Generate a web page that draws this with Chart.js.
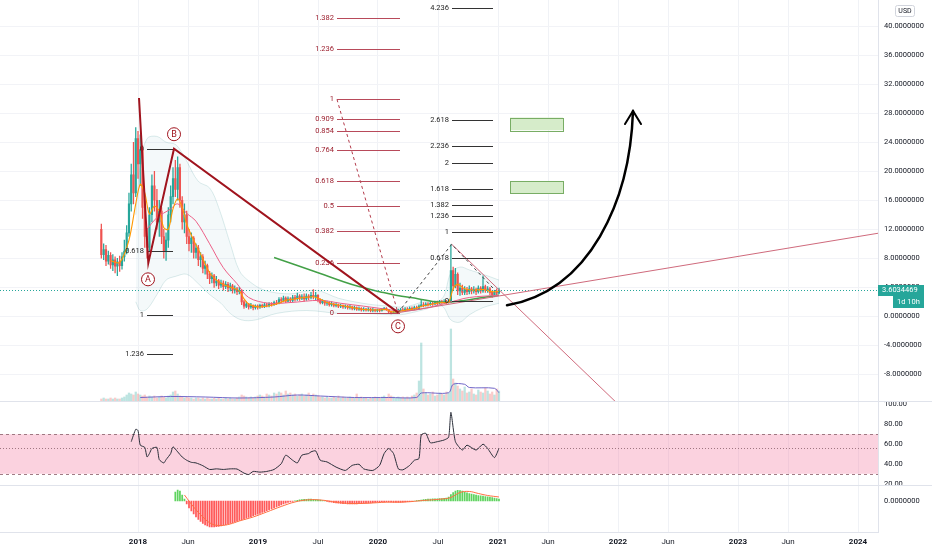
<!DOCTYPE html>
<html><head><meta charset="utf-8">
<script src="https://cdn.jsdelivr.net/npm/chart.js@4.4.1/dist/chart.umd.min.js"></script>
<style>html,body{margin:0;padding:0;background:#fff;}#wrap{width:932px;height:550px;position:relative;}</style>
</head><body><div id="wrap"><canvas id="c"></canvas></div>
<script>
const FONT = 'Roboto, "Liberation Sans", sans-serif';
const TXT = '#131722';

// ---- axes / ticks ----
const xTickVals = [0,5,12,18,24,30,36,41,48,53,60,65,72];
const xTickLabels = ['2018','Jun','2019','Jul','2020','Jul','2021','Jun','2022','Jun','2023','Jun','2024'];
const yearTicks = [0,12,24,36,48,60,72];
const priceTicks = [-8,-4,0,4,8,12,16,20,24,28,32,36,40];
const rsiTicks = [20,40,60,80,100];
const macdTicks = [0];
const lastPrice = 3.6034469;

// ---- weekly candles (first bar: week of 2017-09-11) ----
const opens = [12.0,8.5,9.2,7.6,8.4,7.1,7.8,6.9,7.5,7.0,
8.2,9.0,11.5,15.5,19.5,17.0,24.5,21.0,23.0,15.0,
11.0,9.5,14.0,18.0,16.0,13.0,14.5,11.0,9.0,10.5,
14.0,16.5,19.0,17.5,20.5,16.0,13.0,14.0,11.0,10.0,
10.8,8.8,9.4,7.8,8.2,6.6,7.0,5.8,5.2,5.6,
4.6,4.9,4.3,4.6,4.1,4.4,3.9,4.2,3.6,3.8,
3.4,3.6,2.0,1.4,1.7,1.3,1.5,1.2,1.4,1.3,
1.5,1.4,1.6,1.5,1.7,1.6,1.9,1.8,2.3,2.2,
2.5,2.1,2.4,2.2,2.6,2.4,2.8,2.5,2.7,2.4,
2.8,2.6,2.9,2.7,2.9,2.3,1.9,2.1,1.8,1.9,
1.6,1.7,1.5,1.6,1.4,1.5,1.3,1.4,1.2,1.3,
1.1,1.2,1.0,1.1,0.9,1.0,0.9,1.0,0.8,0.9,
0.8,0.9,0.8,1.0,1.1,0.9,0.6,0.5,0.6,0.7,
0.8,0.9,0.8,1.0,0.9,1.1,1.0,1.2,1.1,1.4,
1.6,1.5,1.7,1.6,1.8,1.7,1.9,1.8,2.0,1.9,
2.0,1.9,2.0,6.3,4.2,5.8,3.5,3.9,3.3,3.7,
3.4,3.8,3.5,3.7,3.4,3.9,3.5,4.1,3.6,3.8,
3.3,3.0,3.3,3.2];
const highs = [12.7,10.0,9.8,9.0,8.8,8.5,8.2,8.0,8.3,8.8,
10.5,12.5,17.0,21.0,24.0,26.0,25.5,25.0,23.5,16.0,
12.0,15.0,19.5,20.0,17.5,16.0,15.0,12.0,11.5,15.0,
18.0,20.5,21.5,22.0,21.0,16.5,15.5,14.5,12.0,11.5,
11.0,10.0,9.8,8.8,8.5,7.6,7.2,6.2,6.0,5.8,
5.5,5.1,5.0,4.9,4.8,4.7,4.6,4.4,4.2,4.0,
4.0,3.7,2.2,2.0,1.8,1.8,1.6,1.6,1.6,1.7,
1.7,1.8,1.8,1.9,1.9,2.1,2.2,2.6,2.6,2.8,
2.7,2.7,2.6,2.9,2.9,3.2,3.0,3.0,3.1,3.1,
3.0,3.3,3.7,3.3,3.0,2.4,2.3,2.2,2.1,2.0,
2.0,1.8,1.9,1.7,1.7,1.6,1.6,1.5,1.5,1.4,
1.4,1.3,1.3,1.2,1.2,1.1,1.2,1.1,1.1,1.0,
1.0,1.0,1.1,1.25,1.2,0.95,0.7,0.8,0.9,1.0,
1.1,1.1,1.2,1.2,1.3,1.3,1.4,1.4,1.6,2.2,
1.9,1.9,1.9,2.0,2.0,2.1,2.1,2.2,2.2,2.3,
2.2,2.3,9.9,6.8,6.6,6.0,4.6,4.3,4.1,4.0,
4.2,4.0,4.1,3.9,4.2,4.1,5.6,4.3,4.1,4.0,
3.5,3.6,3.8,3.9];
const lows = [8.0,7.8,7.0,7.2,6.6,6.3,6.0,5.6,6.2,6.5,
7.6,8.6,11.0,14.5,15.5,16.5,19.0,18.0,13.5,9.5,
8.0,9.0,13.0,14.5,12.0,11.0,10.0,8.0,7.7,9.5,
13.0,15.5,16.5,16.0,15.0,12.0,11.5,10.0,9.0,8.8,
8.0,8.0,7.0,6.8,6.0,5.8,5.2,4.5,4.6,4.0,
4.2,3.8,4.0,3.6,3.8,3.4,3.5,3.2,3.2,3.0,
3.1,1.6,1.1,1.2,1.0,1.1,0.9,1.0,1.0,1.1,
1.2,1.2,1.3,1.3,1.4,1.5,1.6,1.7,1.9,2.0,
1.9,2.0,1.9,2.0,2.1,2.2,2.2,2.3,2.1,2.2,
2.3,2.4,2.4,2.3,2.0,1.7,1.7,1.5,1.5,1.4,
1.4,1.3,1.3,1.2,1.2,1.1,1.1,1.0,1.0,0.9,
0.9,0.8,0.8,0.7,0.7,0.7,0.7,0.6,0.6,0.6,
0.6,0.6,0.7,0.9,0.8,0.45,0.35,0.4,0.5,0.5,
0.7,0.7,0.7,0.8,0.8,0.9,0.9,1.0,1.0,1.3,
1.3,1.4,1.4,1.5,1.5,1.6,1.6,1.7,1.7,1.8,
1.7,1.8,1.9,3.6,3.9,3.0,2.9,3.0,3.0,3.0,
3.1,3.1,3.2,3.0,3.2,3.2,3.3,3.3,3.3,3.0,
2.6,2.7,2.9,3.1];
const closes = [8.5,9.2,7.6,8.4,7.1,7.8,6.9,7.5,7.0,8.2,
9.0,11.5,15.5,19.5,17.0,24.5,21.0,23.0,15.0,11.0,
9.5,14.0,18.0,16.0,13.0,14.5,11.0,9.0,10.5,14.0,
16.5,19.0,17.5,20.5,16.0,13.0,14.0,11.0,10.0,10.8,
8.8,9.4,7.8,8.2,6.6,7.0,5.8,5.2,5.6,4.6,
4.9,4.3,4.6,4.1,4.4,3.9,4.2,3.6,3.8,3.4,
3.6,2.0,1.4,1.7,1.3,1.5,1.2,1.4,1.3,1.5,
1.4,1.6,1.5,1.7,1.6,1.9,1.8,2.3,2.2,2.5,
2.1,2.4,2.2,2.6,2.4,2.8,2.5,2.7,2.4,2.8,
2.6,2.9,2.7,2.9,2.3,1.9,2.1,1.8,1.9,1.6,
1.7,1.5,1.6,1.4,1.5,1.3,1.4,1.2,1.3,1.1,
1.2,1.0,1.1,0.9,1.0,0.9,1.0,0.8,0.9,0.8,
0.9,0.8,1.0,1.1,0.9,0.6,0.5,0.6,0.7,0.8,
0.9,0.8,1.0,0.9,1.1,1.0,1.2,1.1,1.4,1.6,
1.5,1.7,1.6,1.8,1.7,1.9,1.8,2.0,1.9,2.0,
1.9,2.0,6.3,4.2,5.8,3.5,3.9,3.3,3.7,3.4,
3.8,3.5,3.7,3.4,3.9,3.5,4.1,3.6,3.8,3.3,
3.0,3.3,3.2,3.6034469];
const volumes = [2,3,2,2,3,2,3,2,2,3,
4,6,8,7,6,9,7,6,5,6,
4,5,4,5,3,4,5,4,3,5,
6,9,10,7,5,4,3,4,3,3,
2,3,3,2,3,2,3,2,2,3,
2,3,2,2,3,2,3,2,2,3,
4,6,5,4,3,4,3,4,5,6,
5,4,7,6,5,8,7,9,8,6,
10,7,8,6,7,5,6,7,5,6,
8,5,7,6,5,4,4,3,4,3,
3,4,3,5,3,4,3,3,4,3,
3,7,3,4,3,3,2,3,3,4,
3,3,4,5,3,7,5,4,3,4,
3,4,3,4,3,5,6,8,20,58,
12,8,6,7,9,5,6,8,7,6,
9,8,72,22,18,15,12,10,14,8,
9,12,7,6,11,9,8,13,10,7,
9,6,12,10];

// ---- overlays: [bar index, value] ----
const emaFast = [[4,7.7],[8,7.4],[12,10.5],[15,15.5],[17,18.2],[19,17.0],[21,14.1],[23,15.2],[25,14.5],[27,12.2],[29,12.0],[31,14.8],[33,16.2],[35,15.0],[37,12.7],[40,10.5],[43,8.6],[47,6.0],[50,5.0],[53,4.4],[57,3.9],[60,3.5],[62,2.4],[64,1.7],[68,1.3],[72,1.4],[76,1.7],[80,2.2],[84,2.4],[88,2.6],[92,2.7],[95,2.4],[98,1.9],[102,1.6],[106,1.4],[110,1.15],[114,0.95],[118,0.88],[122,0.9],[124,0.95],[126,0.65],[129,0.65],[132,0.85],[136,1.05],[140,1.45],[144,1.7],[148,1.9],[151,1.95],[153,3.8],[155,4.4],[158,3.8],[162,3.6],[166,3.7],[170,3.4],[173,3.45]];
const maSlow = [[20,12.0],[24,13.6],[30,14.8],[33,15.5],[37,14.2],[41,13.1],[47,10.0],[53,6.7],[59,4.5],[64,2.6],[73,1.8],[82,1.9],[95,2.2],[104,1.8],[114,1.4],[121,1.1],[130,0.75],[138,0.95],[151,1.9],[160,2.6],[173,2.9]];
const bbUpper = [[15,14],[17,21],[20,24.5],[24,24.8],[28,24.0],[32,23.7],[35,22.5],[37,21.4],[42,18.6],[47,17.7],[51,15.0],[56,10.0],[60,6.3],[64,4.9],[71,3.6],[82,3.1],[93,3.6],[103,2.5],[110,2.0],[118,1.6],[126,1.4],[132,1.3],[140,2.0],[148,2.4],[152,6.0],[156,6.8],[160,6.4],[166,5.8],[173,5.0]];
const bbLower = [[15,2.0],[17,0.8],[20,1.0],[24,3.0],[28,5.0],[32,5.5],[37,5.8],[42,4.5],[47,3.0],[52,1.8],[56,0.4],[61,-0.5],[67,-0.5],[76,0.4],[89,0.8],[103,0.4],[110,0.4],[118,0.35],[126,0.2],[132,0.3],[140,0.9],[148,1.4],[152,-0.5],[156,-0.8],[160,0.2],[166,1.2],[173,1.8]];
const maLong = [[75,8.1],[85,7.0],[95,5.9],[104,4.9],[112,4.1],[121,3.4],[128,2.9],[138,2.4],[144,2.05],[150,1.95],[158,2.2],[166,2.6],[173,2.9]];
const volMA = [[17,3.5],[30,4.5],[45,4],[60,3],[75,4],[85,6],[95,5],[110,3.5],[125,3.5],[137,3.5],[139,8],[151,8.3],[153,16.7],[158,16.7],[160,13.5],[171,12.7],[173,8.3]];
const rsi = [[13,62.5],[15,75],[16,73.8],[17,59],[19,56.7],[20,47],[21,50.5],[22,55.6],[24,56.7],[25,44.3],[27,41],[28,44.3],[30,50.5],[31,57.3],[33,52.2],[35,47],[37,43.7],[39,41.6],[41,41],[44,38.2],[47,34.4],[50,35],[53,34.4],[56,35],[59,34.8],[62,30.7],[64,29.3],[66,32.4],[69,31.7],[72,32.4],[75,34.4],[78,40.2],[80,48.8],[83,43.7],[85,41],[87,48.8],[90,50.5],[91,52.2],[93,53.2],[95,43.7],[98,42],[102,36.8],[106,33.4],[109,38.5],[112,39.6],[114,35],[118,33.4],[121,38.5],[123,50.5],[125,55.6],[127,50.5],[129,35],[131,34],[134,38.5],[136,43.7],[138,45.4],[139,69.3],[141,71],[143,61.4],[146,62.5],[149,64.2],[151,67],[152,92.2],[154,62.5],[157,54],[159,59],[163,54],[166,60],[168,55.6],[171,46.4],[173,55.6]];
const rsiBand = [30,70];
const rsiMid = 56;
const macdStart = 32;
const macdHist = [0.9,1.1,1.0,0.6,0.2,-0.3,-0.7,-1.0,-1.3,-1.6,
-1.85,-2.05,-2.25,-2.4,-2.5,-2.58,-2.6,-2.6,-2.57,-2.53,
-2.48,-2.42,-2.36,-2.3,-2.24,-2.17,-2.1,-2.02,-1.95,-1.88,
-1.8,-1.72,-1.64,-1.56,-1.48,-1.4,-1.32,-1.24,-1.15,-1.06,
-0.97,-0.88,-0.79,-0.7,-0.6,-0.5,-0.4,-0.3,-0.22,-0.15,
-0.09,-0.04,0.02,0.07,0.11,0.14,0.16,0.17,0.18,0.18,
0.17,0.15,0.12,0.08,0.04,0.0,-0.05,-0.09,-0.13,-0.17,
-0.2,-0.23,-0.25,-0.27,-0.28,-0.29,-0.3,-0.3,-0.3,-0.29,
-0.28,-0.27,-0.25,-0.23,-0.21,-0.19,-0.17,-0.15,-0.13,-0.11,
-0.1,-0.09,-0.09,-0.1,-0.12,-0.14,-0.15,-0.15,-0.14,-0.12,
-0.1,-0.08,-0.06,-0.03,0.0,0.03,0.06,0.1,0.14,0.17,
0.19,0.2,0.21,0.22,0.22,0.23,0.24,0.26,0.3,0.4,
0.65,0.85,1.0,1.07,1.05,0.98,0.9,0.82,0.75,0.69,
0.64,0.59,0.55,0.51,0.48,0.45,0.42,0.38,0.34,0.3,
0.25,0.2];
const macdSignal = [[36,0.6],[40,-0.6],[44,-1.6],[48,-2.3],[52,-2.45],[56,-2.3],[60,-2.0],[66,-1.6],[72,-1.1],[78,-0.55],[84,-0.1],[90,0.12],[96,0.08],[102,-0.12],[108,-0.25],[116,-0.22],[124,-0.12],[132,-0.1],[140,0.05],[148,0.2],[152,0.35],[156,0.85],[160,0.95],[164,0.75],[168,0.55],[173,0.4]];

// ---- drawings in (month since Jan 2018, price) ----
const elliottPath = [[0.1,30.1],[1.03,7.35],[3.6,23.1],[26.03,0.51]];
const waveLabels = [['A',1.0,5.1],['B',3.6,25.1],['C',26.0,-1.38]];
const fibLeft = {p0:23.08,p1:0.23,x0:0.9,x1:3.5,levels:[0,0.618,1,1.236]};
const fibMid = {p0:0.45,p1:29.9,x0:19.9,x1:26.2,levels:[0,0.236,0.382,0.5,0.618,0.764,0.854,0.909,1,1.236,1.382]};
const fibRight = {p0:2.07,p1:11.63,x0:31.4,x1:35.5,levels:[0,0.618,1,1.236,1.382,1.618,2,2.236,2.618,4.236]};
const redDashed = [[19.9,29.9],[26.0,0.45]];
const blackDashed = [[26.0,0.5],[31.37,9.93],[35.7,3.6]];
const trendDown = [[31.37,9.93],[47.7,-11.7]];
const trendUp = [[26.03,0.51],[74,11.45]];
const targetBoxes = [[37.2,27.4,42.5,25.66],[37.2,18.66,42.5,17.0]];
const arrowCurve = [[36.9,1.52],[45.2,3.59],[49.2,15.9],[49.5,28.3]];
const arrowHead = [[48.7,26.5],[50.3,26.5]];

// ---- helpers ----
function barMonth(i){
  const d = new Date(Date.UTC(2017,8,11) + i*7*864e5);
  const y=d.getUTCFullYear(), m=d.getUTCMonth(), day=d.getUTCDate();
  const dim = new Date(Date.UTC(y,m+1,0)).getUTCDate();
  return (y-2018)*12 + m + (day-1)/dim;
}
const pts = arr => arr.map(([i,v]) => ({x: barMonth(i), y: v}));
const UP='#26a69a', DOWN='#ef5350';
const candleColor = ctx => (ctx.dataIndex!==undefined && closes[ctx.dataIndex] >= opens[ctx.dataIndex]) ? UP : DOWN;
const volColor = ctx => (ctx.dataIndex!==undefined && closes[ctx.dataIndex] >= opens[ctx.dataIndex]) ? 'rgba(38,166,154,0.3)' : 'rgba(239,83,80,0.3)';
const fmtLevel = l => String(l);
const noPad = s => { s.paddingTop = 0; s.paddingBottom = 0; s.paddingLeft = 0; s.paddingRight = 0; };

Chart.defaults.font.family = FONT;
Chart.defaults.font.size = 7.5;
Chart.defaults.color = TXT;

const drawPlugin = {
  id: 'drawings',
  beforeDatasetsDraw(chart){
    const {ctx, chartArea:a, scales} = chart;
    const r = scales.yRsi;
    const yT = r.getPixelForValue(rsiBand[1]), yB = r.getPixelForValue(rsiBand[0]);
    ctx.save();
    ctx.fillStyle = 'rgba(244,119,158,0.33)';
    ctx.fillRect(a.left, yT, a.right-a.left, yB-yT);
    ctx.strokeStyle = 'rgba(150,110,120,0.9)';
    ctx.lineWidth = 1;
    ctx.setLineDash([3,3]);
    [yT,yB].forEach(y=>{ctx.beginPath();ctx.moveTo(a.left,Math.round(y)+0.5);ctx.lineTo(a.right,Math.round(y)+0.5);ctx.stroke();});
    ctx.setLineDash([1,2]);
    const ym = Math.round(r.getPixelForValue(rsiMid))+0.5;
    ctx.beginPath();ctx.moveTo(a.left,ym);ctx.lineTo(a.right,ym);ctx.stroke();
    ctx.restore();
  },
  afterDatasetsDraw(chart){
    const {ctx, chartArea:a, scales} = chart;
    const X = scales.x, Y = scales.y;
    const px = v => X.getPixelForValue(v), py = v => Y.getPixelForValue(v);
    ctx.save();
    ctx.beginPath(); ctx.rect(a.left, Y.top, a.right-a.left, Y.bottom-Y.top); ctx.clip();

    ctx.strokeStyle = UP; ctx.lineWidth = 1; ctx.setLineDash([1,2]);
    const lp = Math.round(py(lastPrice))+0.5;
    ctx.beginPath(); ctx.moveTo(a.left, lp); ctx.lineTo(a.right, lp); ctx.stroke();
    ctx.setLineDash([]);

    const poly = (p, color, w, dash) => {
      ctx.strokeStyle = color; ctx.lineWidth = w; ctx.setLineDash(dash||[]);
      ctx.beginPath(); p.forEach(([x,y],k)=>{ k?ctx.lineTo(px(x),py(y)):ctx.moveTo(px(x),py(y)); }); ctx.stroke();
      ctx.setLineDash([]);
    };
    poly(trendUp, '#cf6a7c', 1);
    poly(trendDown, '#cf6a7c', 1);
    poly(redDashed, '#b33a4a', 1, [3,3]);
    poly(blackDashed, '#444', 1, [3,3]);

    const fib = (f, lineColor, textColor) => {
      const x1 = px(f.x0), x2 = px(f.x1);
      ctx.font = '7.5px ' + FONT; ctx.textAlign = 'right'; ctx.textBaseline = 'middle';
      f.levels.forEach(l => {
        const y = Math.round(py(f.p0 + l*(f.p1-f.p0)))+0.5;
        ctx.strokeStyle = lineColor; ctx.lineWidth = 1;
        ctx.beginPath(); ctx.moveTo(x1,y); ctx.lineTo(x2,y); ctx.stroke();
        ctx.fillStyle = textColor; ctx.fillText(fmtLevel(l), x1-3, y);
      });
    };
    fib(fibLeft, '#333', '#1e1e1e');
    fib(fibMid, '#b84a5a', '#9c1f2e');
    fib(fibRight, '#333', '#1e1e1e');

    poly(elliottPath, '#a0141e', 2);
    ctx.font = '9px ' + FONT; ctx.textAlign='center'; ctx.textBaseline='middle';
    waveLabels.forEach(([t,x,y]) => {
      const cx = px(x), cy = py(y);
      ctx.beginPath(); ctx.arc(cx, cy, 6.5, 0, Math.PI*2);
      ctx.fillStyle = '#fff'; ctx.fill();
      ctx.strokeStyle = '#a0141e'; ctx.lineWidth = 1; ctx.stroke();
      ctx.fillStyle = '#a0141e'; ctx.fillText(t, cx, cy+0.5);
    });

    targetBoxes.forEach(([x0,y0,x1,y1]) => {
      const l=px(x0), t=py(y0), w=px(x1)-l, h=py(y1)-t;
      ctx.fillStyle = '#d6ecca'; ctx.fillRect(l,t,w,h);
      ctx.strokeStyle = '#78ad64'; ctx.lineWidth = 1; ctx.strokeRect(Math.round(l)+0.5,Math.round(t)+0.5,Math.round(w),Math.round(h));
    });

    const c = arrowCurve;
    ctx.strokeStyle = '#000'; ctx.lineWidth = 2.5; ctx.lineCap='round';
    ctx.beginPath(); ctx.moveTo(px(c[0][0]),py(c[0][1]));
    ctx.bezierCurveTo(px(c[1][0]),py(c[1][1]),px(c[2][0]),py(c[2][1]),px(c[3][0]),py(c[3][1]));
    ctx.stroke();
    ctx.lineWidth = 2;
    ctx.beginPath();
    ctx.moveTo(px(arrowHead[0][0]),py(arrowHead[0][1]));
    ctx.lineTo(px(c[3][0]),py(c[3][1]));
    ctx.lineTo(px(arrowHead[1][0]),py(arrowHead[1][1]));
    ctx.stroke();
    ctx.restore();
  },
  afterDraw(chart){
    const {ctx, chartArea:a, scales} = chart;
    ctx.save();
    ctx.strokeStyle = '#e0e3eb'; ctx.lineWidth = 1;
    [scales.y.bottom, scales.yRsi.bottom].forEach(y=>{
      const yy = Math.round(y)+0.5;
      ctx.beginPath(); ctx.moveTo(0,yy); ctx.lineTo(chart.width,yy); ctx.stroke();
    });
    const y = Math.round(scales.y.getPixelForValue(lastPrice));
    ctx.fillStyle = UP;
    ctx.fillRect(a.right, y-5, 46, 11);
    ctx.fillRect(a.right+15, y+6, 31, 12);
    ctx.fillStyle = '#fff'; ctx.font = '7.5px ' + FONT; ctx.textAlign='left'; ctx.textBaseline='middle';
    ctx.fillText(lastPrice.toFixed(7), a.right+4, y+0.5);
    ctx.textAlign='center';
    ctx.fillText('1d 10h', a.right+30.5, y+12);
    ctx.strokeStyle = '#d1d4dc'; ctx.lineWidth = 1;
    ctx.beginPath(); ctx.roundRect(895.5, 5.5, 19, 11, 2); ctx.stroke();
    ctx.fillStyle = TXT; ctx.font = '7px ' + FONT; ctx.textAlign='center';
    ctx.fillText('USD', 905, 11.5);
    ctx.restore();
  }
};

const yAxisCommon = {
  position: 'right', stack: 'panes',
  border: {display: true, color: '#e0e3eb'},
  afterFit: s => { s.width = 54; noPad(s); }
};

new Chart(document.getElementById('c'), {
  type: 'line',
  data: { datasets: [
    {type:'line', data: pts(bbUpper), yAxisID:'y', borderColor:'rgba(0,120,120,0.14)', borderWidth:1, pointRadius:0, tension:0.35, fill:'+1', backgroundColor:'rgba(0,120,130,0.045)', order:20},
    {type:'line', data: pts(bbLower), yAxisID:'y', borderColor:'rgba(0,120,120,0.14)', borderWidth:1, pointRadius:0, tension:0.35, fill:false, order:20},
    {type:'bar', data: volumes.map((v,i)=>({x:barMonth(i), y:v})), yAxisID:'yVol', backgroundColor: volColor, barThickness:1.6, grouped:false, borderWidth:0, order:15},
    {type:'line', data: pts(volMA), yAxisID:'yVol', borderColor:'#7066c8', borderWidth:1, pointRadius:0, tension:0.3, order:14},
    {type:'bar', data: lows.map((l,i)=>({x:barMonth(i), y:[l, highs[i]]})), yAxisID:'y', backgroundColor: candleColor, barThickness:0.6, grouped:false, borderWidth:0, order:10},
    {type:'bar', data: opens.map((o,i)=>({x:barMonth(i), y:[o, closes[i]]})), yAxisID:'y', backgroundColor: candleColor, barThickness:1.5, minBarLength:0.7, grouped:false, borderWidth:0, order:9},
    {type:'line', data: pts(maLong), yAxisID:'y', borderColor:'#43a047', borderWidth:1.5, pointRadius:0, tension:0.4, order:3},
    {type:'line', data: pts(maSlow), yAxisID:'y', borderColor:'#ec5f86', borderWidth:1, pointRadius:0, tension:0.35, order:2},
    {type:'line', data: pts(emaFast), yAxisID:'y', borderColor:'#ff9800', borderWidth:1.1, pointRadius:0, tension:0.3, order:1},
    {type:'line', data: pts(rsi), yAxisID:'yRsi', borderColor:'#2a2e39', borderWidth:1, pointRadius:0, tension:0.2, order:1},
    {type:'bar', data: macdHist.map((v,k)=>({x:barMonth(macdStart+k), y:v})), yAxisID:'yMacd', backgroundColor: ctx => (ctx.raw && ctx.raw.y >= 0) ? '#5fd35f' : '#ff5a5a', barThickness:1.1, grouped:false, borderWidth:0, order:5},
    {type:'line', data: pts(macdSignal), yAxisID:'yMacd', borderColor:'#ff7043', borderWidth:1, pointRadius:0, tension:0.4, order:1}
  ]},
  options: {
    responsive: true, maintainAspectRatio: false, animation: false,
    layout: {padding: 0},
    plugins: {legend:{display:false}, tooltip:{enabled:false}},
    scales: {
      x: {
        type:'linear', position:'bottom', min:-13.8, max:74, offset:false,
        afterBuildTicks: s => { s.ticks = xTickVals.map(v=>({value:v})); },
        ticks: {autoSkip:false, maxRotation:0, padding:5, color:TXT,
          font: ctx => ({family:FONT, size:8, weight: (ctx.tick && yearTicks.includes(ctx.tick.value)) ? 'bold' : 'normal'}),
          callback: v => xTickLabels[xTickVals.indexOf(v)]},
        grid: {color:'#f0f2f6', drawTicks:false, offset:false},
        border: {display:true, color:'#e0e3eb'},
        afterFit: s => { s.height = 18; noPad(s); }
      },
      y: Object.assign({}, yAxisCommon, {
        type:'linear', stackWeight:401, min:-11.7, max:43.6,
        afterBuildTicks: s => { s.ticks = priceTicks.map(v=>({value:v})); },
        ticks: {autoSkip:false, padding:6, color:TXT, callback: v => v.toFixed(7)},
        grid: {color:'#f2f3f7', drawTicks:false}
      }),
      yRsi: Object.assign({}, yAxisCommon, {
        type:'linear', stackWeight:84, min:18.4, max:103.4,
        afterBuildTicks: s => { s.ticks = rsiTicks.map(v=>({value:v})); },
        ticks: {autoSkip:false, padding:6, color:TXT, callback: v => v.toFixed(2)},
        grid: {display:false, drawTicks:false}
      }),
      yMacd: Object.assign({}, yAxisCommon, {
        type:'linear', stackWeight:46.7, min:-3.1, max:1.57,
        afterBuildTicks: s => { s.ticks = macdTicks.map(v=>({value:v})); },
        ticks: {autoSkip:false, padding:6, color:TXT, callback: v => v.toFixed(7)},
        grid: {display:false, drawTicks:false}
      }),
      yVol: {type:'linear', display:false, position:'left', min:-131, max:401, afterFit: noPad}
    }
  },
  plugins: [drawPlugin]
});
</script>
</body></html>
